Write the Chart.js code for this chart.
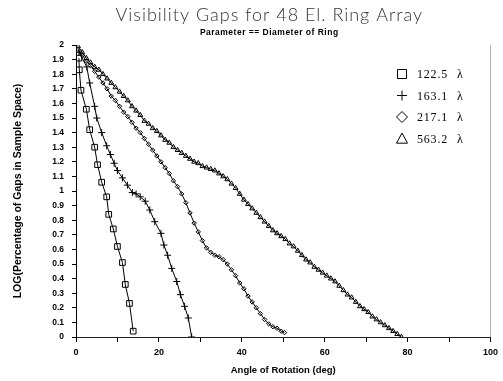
<!DOCTYPE html>
<html>
<head>
<meta charset="utf-8">
<script src="https://cdn.jsdelivr.net/npm/chart.js@4/dist/chart.umd.min.js"></script>
<style>
  html, body { margin: 0; padding: 0; background: #fff; }
  #wrap { width: 503px; height: 381px; }
</style>
</head>
<body>
<div id="wrap"><canvas id="gapChart"></canvas></div>
<script>
// series labels (ring diameters)
const seriesNames = ["122.5", "163.1", "217.1", "563.2"];

// 122.5 lambda - squares
const sqAngle = [0.7, 0.8, 1.2, 2.5, 3.3, 4.5, 5.2, 6.2, 7.4, 7.9, 9.0, 10.0, 11.2, 11.9, 12.9, 13.8];
const sqLog   = [1.91, 1.83, 1.69, 1.56, 1.42, 1.30, 1.18, 1.06, 0.96, 0.84, 0.74, 0.62, 0.51, 0.36, 0.23, 0.04];

// 163.1 lambda - plus
const plAngle = [0.7, 2.6, 3.3, 4.5, 5.0, 6.2, 7.4, 8.3, 9.2, 10.0, 11.2, 12.4, 13.6, 14.5, 15.5, 16.7,
                 17.8, 19.0, 20.5, 21.2, 22.1, 23.1, 24.3, 25.2, 26.2, 27.1, 27.9];
const plLog   = [1.95, 1.85, 1.74, 1.58, 1.50, 1.40, 1.31, 1.25, 1.19, 1.14, 1.09, 1.04, 0.99, 0.98, 0.96, 0.93,
                 0.87, 0.79, 0.71, 0.63, 0.56, 0.47, 0.38, 0.29, 0.21, 0.13, 0.0];

// 217.1 lambda - diamonds
const diAngle = [0.5, 1.5, 2.5, 3.5, 4.5, 5.5, 6.5, 7.5, 8.5, 9.5, 10.5, 11.5, 12.5, 13.5, 14.5, 15.5,
                 16.5, 17.5, 18.5, 19.5, 20.5, 21.5, 22.5, 23.5, 24.5, 25.5, 26.5, 27.5, 28.5, 29.5, 30.5,
                 31.5, 32.5, 33.5, 34.5, 35.5, 36.5, 37.5, 38.5, 39.5, 40.5, 41.5, 42.5, 43.5, 44.5, 45.5,
                 46.5, 47.5, 48.5, 49.5, 50.3];
const diLog   = [1.97, 1.93, 1.89, 1.86, 1.82, 1.78, 1.74, 1.70, 1.65, 1.62, 1.58, 1.54, 1.51, 1.47, 1.43, 1.40,
                 1.36, 1.32, 1.28, 1.24, 1.20, 1.16, 1.12, 1.07, 1.03, 0.98, 0.92, 0.85, 0.78, 0.72, 0.66,
                 0.61, 0.58, 0.56, 0.55, 0.53, 0.50, 0.46, 0.42, 0.37, 0.33, 0.28, 0.24, 0.20, 0.16, 0.12,
                 0.09, 0.07, 0.06, 0.04, 0.03];

// 563.2 lambda - triangles
const trAngle = [0.5, 1.5, 2.5, 3.5, 4.5, 5.5, 6.5, 7.5, 8.5, 9.5, 10.5, 11.5, 12.5, 13.5, 14.5, 15.5,
                 16.5, 17.5, 18.5, 19.5, 20.5, 21.5, 22.5, 23.5, 24.5, 25.5, 26.5, 27.5, 28.5, 29.5, 30.5,
                 31.5, 32.5, 33.5, 34.5, 35.5, 36.5, 37.5, 38.5, 39.5, 40.5, 41.5, 42.5, 43.5, 44.5, 45.5,
                 46.5, 47.5, 48.5, 49.5, 50.5, 51.5, 52.5, 53.5, 54.5, 55.5, 56.5, 57.5, 58.5, 59.5, 60.5,
                 61.5, 62.5, 63.5, 64.5, 65.5, 66.5, 67.5, 68.5, 69.5, 70.5, 71.5, 72.5, 73.5, 74.5, 75.5,
                 76.5, 77.5, 78.5];
const trLog   = [1.99, 1.95, 1.91, 1.88, 1.85, 1.83, 1.80, 1.77, 1.74, 1.71, 1.68, 1.65, 1.62, 1.58, 1.55, 1.52,
                 1.48, 1.46, 1.43, 1.41, 1.38, 1.35, 1.33, 1.30, 1.28, 1.26, 1.24, 1.22, 1.20, 1.19, 1.17,
                 1.16, 1.15, 1.14, 1.12, 1.10, 1.08, 1.05, 1.02, 0.98, 0.94, 0.91, 0.88, 0.85, 0.82, 0.79,
                 0.76, 0.73, 0.71, 0.69, 0.67, 0.64, 0.62, 0.59, 0.56, 0.53, 0.51, 0.48, 0.46, 0.44, 0.42,
                 0.40, 0.38, 0.35, 0.32, 0.29, 0.27, 0.24, 0.21, 0.19, 0.17, 0.14, 0.12, 0.10, 0.08, 0.06,
                 0.04, 0.02, 0.0];

const xTicks = [0, 20, 40, 60, 80, 100];

function pairs(xs, ys) {
    return xs.map(function (x, i) { return { x: x, y: ys[i] }; });
}

// draw a legend marker by hand
function drawMarker(ctx, style, x, y, r) {
    ctx.beginPath();
    if (style === "rect") {
        ctx.rect(x - r, y - r, 2 * r, 2 * r);
    } else if (style === "cross") {
        ctx.moveTo(x - r, y); ctx.lineTo(x + r, y);
        ctx.moveTo(x, y - r); ctx.lineTo(x, y + r);
    } else if (style === "rectRot") {
        ctx.moveTo(x, y - r); ctx.lineTo(x + r, y); ctx.lineTo(x, y + r); ctx.lineTo(x - r, y); ctx.closePath();
    } else {
        ctx.moveTo(x, y - r); ctx.lineTo(x + r, y + r * 0.85); ctx.lineTo(x - r, y + r * 0.85); ctx.closePath();
    }
    ctx.stroke();
}

const decorPlugin = {
    id: "decor",
    afterDraw: function (chart) {
        const ctx = chart.ctx;
        const area = chart.chartArea;
        const cx = (area.left + area.right) / 2 - 14;
        ctx.save();
        ctx.fillStyle = "#333";
        ctx.textAlign = "center";
        ctx.textBaseline = "middle";
        ctx.letterSpacing = "1px";
        ctx.font = "300 18px Lato, 'Liberation Sans'";
        ctx.fillText("Visibility Gaps for 48 El. Ring Array", cx, 15);
        ctx.fillStyle = "#000";
        ctx.letterSpacing = "0.5px";
        ctx.font = "bold 8.5px 'Liberation Sans'";
        ctx.fillText("Parameter == Diameter of Ring", cx, 33);

        // legend
        ctx.letterSpacing = "0.8px";
        ctx.strokeStyle = "#000";
        ctx.lineWidth = 1;
        ctx.textAlign = "left";
        ctx.font = "12px 'Liberation Serif'";
        const sizes = [4.5, 5, 5.5, 5.5];
        chart.data.datasets.forEach(function (ds, i) {
            const y = 74 + i * 21.5;
            drawMarker(ctx, ds.pointStyle, 402, y, sizes[i]);
            ctx.fillText(ds.label, 417, y + 1);
            ctx.fillText("\u03bb", 457, y + 1);
        });
        ctx.restore();
    }
};

const common = {
    borderColor: "#000",
    backgroundColor: "transparent",
    pointBorderColor: "#000",
    pointBackgroundColor: "transparent",
    borderWidth: 1,
    pointBorderWidth: 1,
    tension: 0,
    showLine: true,
    fill: false,
};

new Chart(document.getElementById("gapChart"), {
    type: "line",
    data: {
        datasets: [
            Object.assign({ label: seriesNames[0], data: pairs(sqAngle, sqLog), pointStyle: "rect", pointRadius: 4 }, common),
            Object.assign({ label: seriesNames[1], data: pairs(plAngle, plLog), pointStyle: "cross", pointRadius: 3.5 }, common),
            Object.assign({ label: seriesNames[2], data: pairs(diAngle, diLog), pointStyle: "rectRot", pointRadius: 2.2 }, common),
            Object.assign({ label: seriesNames[3], data: pairs(trAngle, trLog), pointStyle: "triangle", pointRadius: 2.8 }, common),
        ],
    },
    options: {
        responsive: true,
        maintainAspectRatio: false,
        animation: false,
        layout: { padding: { top: 45, right: 7, left: 0, bottom: 0 } },
        plugins: {
            legend: { display: false },
            tooltip: { enabled: false },
        },
        scales: {
            x: {
                type: "linear",
                min: 0,
                max: 100,
                afterFit: function (s) { s.height = 44; },
                afterBuildTicks: function (s) {
                    s.ticks = [];
                    for (let v = 0; v <= 100; v += 10) s.ticks.push({ value: v });
                },
                ticks: {
                    autoSkip: false,
                    maxRotation: 0,
                    padding: 5,
                    color: "#000",
                    font: { family: "'Liberation Sans'", size: 9, weight: "bold" },
                    callback: function (v) { return xTicks.indexOf(v) >= 0 ? String(v) : ""; },
                },
                grid: {
                    drawOnChartArea: true,
                    tickLength: 5,
                    tickColor: "#000",
                    color: function (c) { return c.tick && c.tick.value === 100 ? "rgba(0,0,0,0.3)" : "transparent"; },
                },
                border: { display: true, color: "#222", width: 1 },
                title: {
                    display: true,
                    text: "Angle of Rotation (deg)",
                    color: "#000",
                    font: { family: "'Liberation Sans'", size: 9.5, weight: "bold" },
                    padding: { top: 0, bottom: 5 },
                },
            },
            y: {
                min: 0,
                max: 2,
                afterFit: function (s) { s.width = 76; },
                ticks: {
                    stepSize: 0.1,
                    autoSkip: false,
                    padding: 8,
                    color: "#000",
                    font: { family: "'Liberation Sans'", size: 8.5, weight: "bold" },
                    callback: function (v) { return String(Math.round(v * 10) / 10); },
                },
                grid: { drawOnChartArea: false, tickLength: 4, tickColor: "#000" },
                border: { display: true, color: "#000", width: 1 },
                title: {
                    display: true,
                    text: "LOG(Percentage of Gaps in Sample Space)",
                    color: "#000",
                    font: { family: "'Liberation Sans'", size: 10.5, weight: "bold" },
                    padding: { top: 12, bottom: 0 },
                },
            },
        },
    },
    plugins: [decorPlugin],
});
</script>
</body>
</html>
